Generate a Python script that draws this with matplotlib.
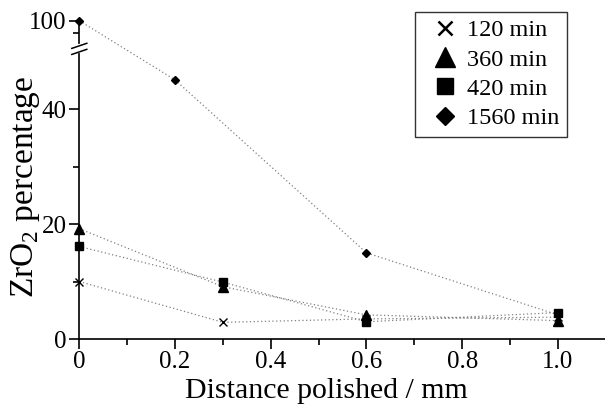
import numpy as np
import matplotlib
matplotlib.use("Agg")
import matplotlib.pyplot as plt
from matplotlib.scale import FuncScale
from matplotlib.ticker import FixedLocator
from matplotlib.lines import Line2D

# Data
distance = [0.0, 0.3, 0.6, 1.0]
distance_1560 = [0.0, 0.2, 0.6, 1.0]
pct_120 = [10.0, 2.9, 3.5, 3.8]
pct_360 = [19.2, 9.1, 4.2, 3.2]
pct_420 = [16.1, 9.9, 3.0, 4.6]
pct_1560 = [100.0, 45.1, 15.0, 4.2]
labels = ["120 min", "360 min", "420 min", "1560 min"]
major_yticks = [0, 20, 40, 100]
minor_yticks = [10, 30, 95]
major_xticks = [0, 0.2, 0.4, 0.6, 0.8, 1.0]
xtick_labels = ["0", "0.2", "0.4", "0.6", "0.8", "1.0"]
minor_xticks = [0.1, 0.3, 0.5, 0.7, 0.9]

# broken scale parameters
B1, B2, K = 51.0, 90.0, 0.44

def fwd(v):
    v = np.asarray(v, dtype=float)
    return np.where(v <= B1, v, np.where(v < B2, B1, B1 + (v - B2) * K))

def inv(u):
    u = np.asarray(u, dtype=float)
    return np.where(u <= B1, u, B2 + (u - B1) / K)

plt.rcParams['font.family'] = ['Liberation Serif', 'DejaVu Serif']
plt.rcParams['mathtext.fontset'] = 'custom'
plt.rcParams['mathtext.rm'] = 'Liberation Serif'

fig = plt.figure(figsize=(6.05, 4.07), dpi=100)
ax = fig.add_axes([79.3 / 605, 68 / 407, 526.4 / 605, 318.3 / 407])
ax.set_yscale(FuncScale(ax, (fwd, inv)))

line_kw = dict(color='#808080', linestyle=(0, (1, 2)), linewidth=0.9)
mk_kw = dict(color='black', linestyle='none', clip_on=False, zorder=5)

ax.plot(distance, pct_120, **line_kw)
ax.plot(distance, pct_360, **line_kw)
ax.plot(distance, pct_420, **line_kw)
ax.plot(distance_1560, pct_1560, **line_kw)

ax.plot(distance, pct_120, marker='x', markersize=6, markeredgewidth=1.0, **mk_kw)
ax.plot(distance, pct_360, marker='^', markersize=6.5, **mk_kw)
ax.plot(distance, pct_420, marker='s', markersize=5.5, **mk_kw)
ax.plot(distance_1560, pct_1560, marker='D', markersize=4.5, **mk_kw)

ax.set_xlim(0, 1.1)
ax.set_ylim(0, 100)

ax.spines['top'].set_visible(False)
ax.spines['right'].set_visible(False)
for s in ('left', 'bottom'):
    ax.spines[s].set_linewidth(1.2)

ax.set_xticks(major_xticks)
ax.set_xticklabels(xtick_labels)
ax.xaxis.set_minor_locator(FixedLocator(minor_xticks))
ax.yaxis.set_major_locator(FixedLocator(major_yticks))
ax.yaxis.set_minor_locator(FixedLocator(minor_yticks))
ax.set_yticklabels([str(t) for t in major_yticks])
ax.tick_params(which='major', direction='out', length=7, width=1.2, labelsize=18, pad=2)
ax.tick_params(which='minor', direction='out', length=4, width=1.2)

ax.set_xlabel("Distance polished / mm", fontsize=21.5)
ax.xaxis.set_label_coords(0.4696, -0.124)
ax.set_ylabel("ZrO$_2$ percentage", fontsize=24)
ax.yaxis.set_label_coords(-0.070, 0.478)

# axis break marks
bx = 7.5 / 526.4
ax.plot([0, 0], [0.904, 0.919], transform=ax.transAxes, color='white',
        linewidth=3, clip_on=False, zorder=6)
ax.plot([-bx, bx], [0.913, 0.929], transform=ax.transAxes, color='black',
        linewidth=1.1, clip_on=False, zorder=7)
ax.plot([-bx, bx], [0.894, 0.910], transform=ax.transAxes, color='black',
        linewidth=1.1, clip_on=False, zorder=7)

handles = [
    Line2D([], [], color='black', linestyle='none', marker='x', markersize=10, markeredgewidth=1.8),
    Line2D([], [], color='black', linestyle='none', marker='^', markersize=14),
    Line2D([], [], color='black', linestyle='none', marker='s', markersize=12),
    Line2D([], [], color='black', linestyle='none', marker='D', markersize=9),
]
leg = ax.legend(handles, labels, loc='upper right',
                bbox_to_anchor=(567 / 605, 1 - 12 / 407), bbox_transform=fig.transFigure,
                borderaxespad=0, fontsize=17.5, frameon=True, fancybox=False,
                edgecolor='black', handlelength=1.85, handletextpad=0.0,
                labelspacing=0.3, borderpad=0.3)
leg.get_frame().set_linewidth(1.0)

fig.savefig("out.png", dpi=100)
